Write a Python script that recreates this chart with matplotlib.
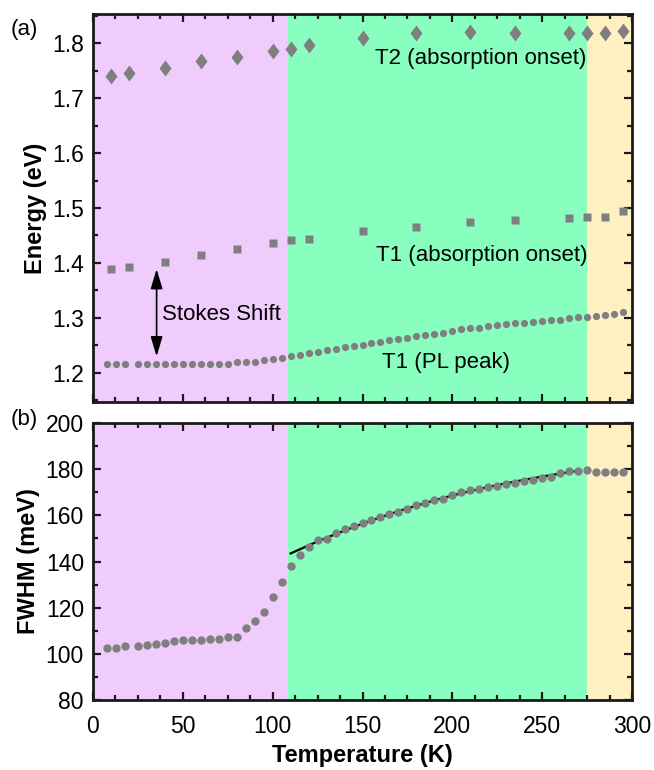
import matplotlib.pyplot as plt
from matplotlib.markers import MarkerStyle
from matplotlib.transforms import Affine2D
from matplotlib.ticker import MultipleLocator

plt.rcParams['font.family'] = ['Liberation Sans', 'DejaVu Sans']

# temperatures of the PL spectra (K)
pl_temp = [8, 13, 18, 25, 30, 35, 40, 45, 50, 55, 60, 65, 70, 75, 80,
           85, 90, 95, 100, 105, 110, 115, 120, 125, 130, 135, 140, 145,
           150, 155, 160, 165, 170, 175, 180, 185, 190, 195, 200, 205, 210,
           215, 220, 225, 230, 235, 240, 245, 250, 255, 260, 265, 270, 275,
           280, 285, 290, 295]
pl_peak = [1.216, 1.216, 1.216, 1.216, 1.216, 1.216, 1.216, 1.216, 1.216,
           1.216, 1.216, 1.216, 1.216, 1.217, 1.219,
           1.219, 1.219, 1.223, 1.2255, 1.227, 1.230, 1.233, 1.236, 1.238,
           1.242, 1.244, 1.2465, 1.249,
           1.2515, 1.2545, 1.256, 1.259, 1.262, 1.264, 1.267, 1.2685, 1.271,
           1.273, 1.276, 1.279, 1.281, 1.282, 1.285, 1.287, 1.289, 1.291,
           1.291, 1.293, 1.295, 1.297, 1.297, 1.299, 1.301, 1.301, 1.304,
           1.3055, 1.308, 1.310]
fwhm = [102.5, 102.4, 103.4, 103.4, 104.0, 104.4, 104.9, 105.5, 105.9, 105.9,
        105.9, 106.5, 106.5, 107.1, 107.5,
        111.1, 114.2, 118.2, 124.8, 131.3, 138.2, 143.0, 146.2, 149.2, 149.7,
        152.3, 153.9, 155.3,
        156.8, 157.9, 159.3, 160.4, 161.6, 162.9, 164.5, 165.5, 166.5, 167.0,
        168.9, 170.2, 171.2, 171.6, 172.2, 172.9, 173.8, 174.1, 174.7, 175.4,
        176.1, 176.7, 178.2, 179.1, 179.2, 179.8, 178.8, 178.8, 178.8, 178.8]

# absorption onsets
abs_temp = [10, 20, 40, 60, 80, 100, 110, 120, 150, 180, 210, 235, 265, 275, 285, 295]
t1_abs = [1.389, 1.392, 1.402, 1.415, 1.426, 1.437, 1.441, 1.444, 1.459, 1.466,
          1.475, 1.479, 1.481, 1.483, 1.483, 1.494]
t2_abs = [1.740, 1.746, 1.755, 1.767, 1.775, 1.786, 1.790, 1.797, 1.810, 1.818,
          1.820, 1.819, 1.819, 1.818, 1.819, 1.822]

# fit through the FWHM in the middle phase
fit_temp = [110, 120, 130, 140, 150, 160, 170, 180, 190, 200, 210, 220, 230,
            240, 250, 260, 270]
fit_fwhm = [143.5, 147.0, 150.3, 153.4, 156.4, 159.2, 161.8, 164.2, 166.5,
            168.6, 170.5, 172.3, 173.9, 175.4, 176.8, 178.1, 179.3]

# phase boundaries (K)
phase_edges = [0, 108.5, 275, 300]
phase_colors = ['#f0ccfc', '#88ffbe', '#fff0c2']

grey = '#7f7f7f'

fig = plt.figure(figsize=(6.54, 7.70), dpi=100)
ax1 = fig.add_axes([0.1422, 0.4779, 0.8242, 0.5039])
ax2 = fig.add_axes([0.1422, 0.0909, 0.8242, 0.3597])

for ax in (ax1, ax2):
    for i, c in enumerate(phase_colors):
        ax.axvspan(phase_edges[i], phase_edges[i + 1], color=c, lw=0, zorder=0)
    ax.set_xlim(0, 300)
    ax.xaxis.set_major_locator(MultipleLocator(50))
    ax.xaxis.set_minor_locator(MultipleLocator(12.5))
    ax.tick_params(which='both', direction='in', top=True, right=True,
                   width=1.6, labelsize=16.5, color='#1a1a1a')
    ax.tick_params(which='major', length=6)
    ax.tick_params(which='minor', length=3.5)
    ax.tick_params(axis='y', which='major', pad=6.5)
    ax.tick_params(axis='x', which='major', pad=11)
    for s in ax.spines.values():
        s.set_linewidth(2.0)
        s.set_color('#1a1a1a')
        s.set_zorder(5)

# panel (a)
diamond = MarkerStyle('D', transform=Affine2D().scale(0.82, 1.0))
ax1.plot(abs_temp, t2_abs, ls='none', marker=diamond, ms=8, color=grey, mec='none', zorder=3)
ax1.plot(abs_temp, t1_abs, ls='none', marker='s', ms=6, color=grey, mec='none', zorder=3)
ax1.plot(pl_temp, pl_peak, ls='none', marker='o', ms=5.2, color=grey, mec='none', zorder=3)
ax1.set_ylim(1.147, 1.853)
ax1.yaxis.set_major_locator(MultipleLocator(0.1))
ax1.yaxis.set_minor_locator(MultipleLocator(0.05))
ax1.set_xticklabels([])
ax1.set_ylabel('Energy (eV)', fontsize=17, fontweight='bold', labelpad=4)

ax1.text(216, 1.7715, 'T2 (absorption onset)', fontsize=16, ha='center', va='center')
ax1.text(216.5, 1.4133, 'T1 (absorption onset)', fontsize=16, ha='center', va='center')
ax1.text(196.7, 1.2187, 'T1 (PL peak)', fontsize=16, ha='center', va='center')
ax1.text(38.4, 1.306, 'Stokes Shift', fontsize=16, ha='left', va='center')
ax1.annotate('', xy=(35.4, 1.230), xytext=(35.4, 1.389),
             arrowprops=dict(arrowstyle='<|-|>,head_length=0.6,head_width=0.18',
                             color='black', lw=1.2, mutation_scale=20,
                             shrinkA=0, shrinkB=0))

# panel (b)
ax2.plot(fit_temp, fit_fwhm, color='black', lw=1.6, zorder=2)
ax2.plot(pl_temp, fwhm, ls='none', marker='o', ms=6, color=grey, mec='none', zorder=3)
ax2.set_ylim(80, 200)
ax2.yaxis.set_major_locator(MultipleLocator(20))
ax2.yaxis.set_minor_locator(MultipleLocator(10))
ax2.set_ylabel('FWHM (meV)', fontsize=17, fontweight='bold', labelpad=4)
ax2.set_xlabel('Temperature (K)', fontsize=17, fontweight='bold', labelpad=4)

fig.text(24 / 654, 1 - 30 / 770, '(a)', fontsize=16, ha='center', va='center')
fig.text(24 / 654, 1 - 419 / 770, '(b)', fontsize=16, ha='center', va='center')

fig.savefig('out.png', dpi=100)
